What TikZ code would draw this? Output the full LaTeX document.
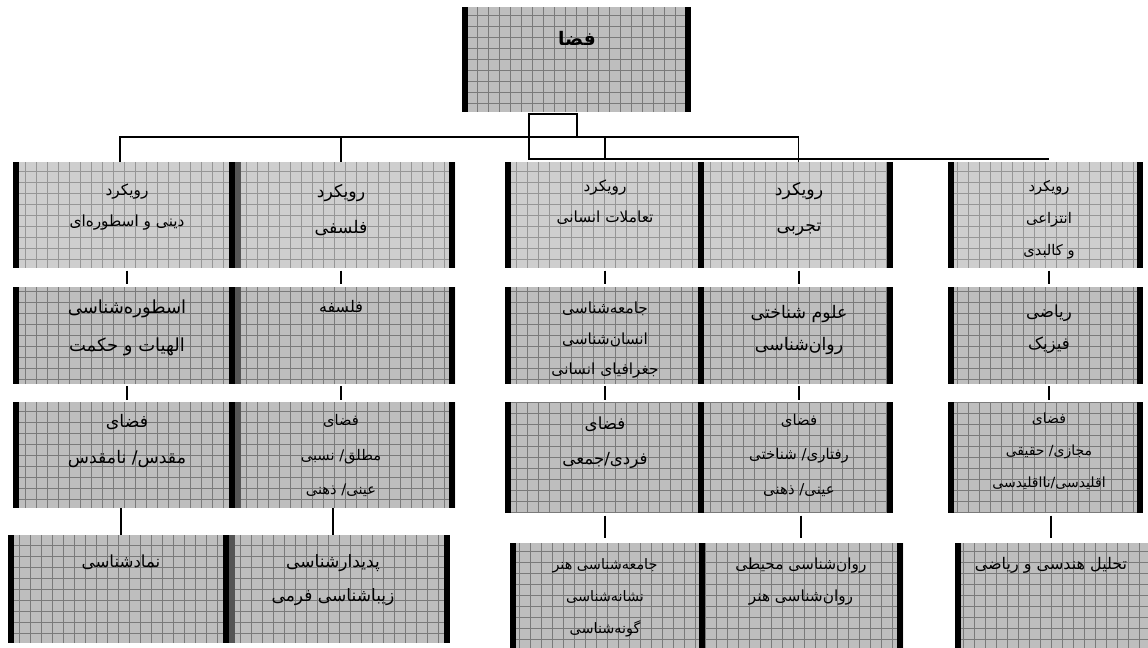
\documentclass[tikz,border=0pt]{standalone}
\usepackage{fontspec}
\newfontfamily\fa[Script=Arabic]{DejaVu Sans}
\TeXXeTstate=1
\newcommand\fal[1]{\beginR #1\endR}
\definecolor{fillA}{RGB}{206,206,206}
\definecolor{fillB}{RGB}{190,190,190}
\definecolor{gridA}{RGB}{150,150,150}
\definecolor{gridB}{RGB}{122,122,122}
\definecolor{stripB}{RGB}{85,85,85}
\tikzset{
  leftcol/.store in=\leftcol, rightcol/.store in=\rightcol, gridcol/.store in=\gridcol,
  leftcol=black, rightcol=black, gridcol=gridA,
  box/.style args={#1/#2}{inner sep=0pt, outer sep=0pt,
    minimum width={#1*0.75pt}, minimum height={#2*0.75pt},
    path picture={
      \draw[\gridcol, line width=0.55pt, step=8.25pt]
        (path picture bounding box.south west) grid (path picture bounding box.north east);
      \path[fill=\leftcol] (path picture bounding box.south west) rectangle ([xshift=4.5pt]path picture bounding box.north west);
      \path[fill=\rightcol] (path picture bounding box.south east) rectangle ([xshift=-4.5pt]path picture bounding box.north east);
    }},
  lightbox/.style={box=#1, fill=fillA, gridcol=gridA, leftcol=black, rightcol=black},
  darkbox/.style={box=#1, fill=fillB, gridcol=gridB, leftcol=black, rightcol=black},
  txt/.style args={#1/#2}{inner sep=0pt, anchor=north, align=center, font=\fa\fontsize{#1}{#2}\selectfont},
  bus/.style={draw=black, line width=0.9pt},
  tick/.style={draw=black, line width=1.1pt}
}
\begin{document}
\begin{tikzpicture}[x=0.75pt, y=-0.75pt]
\useasboundingbox (0,0) rectangle (1148,648);
% top
\node[darkbox=229/105] (T) at (576.5,59.5) {};
\node[inner sep=0pt, font=\fa\bfseries\fontsize{14}{16}\selectfont] (tT) at (577,38) {\fal{فضا}};
% row 1
\node[lightbox=222/106] (A1) at (124,215) {};
\node[lightbox=220/106, leftcol=stripB] (B1) at (345,215) {};
\node[lightbox=199/106] (C1) at (604.5,215) {};
\node[lightbox=189/106, leftcol=none] (D1) at (798.5,215) {};
\node[lightbox=195/106] (E1) at (1045.5,215) {};
% row 2
\node[darkbox=222/97] (A2) at (124,335.5) {};
\node[darkbox=220/97, leftcol=stripB] (B2) at (345,335.5) {};
\node[darkbox=199/97] (C2) at (604.5,335.5) {};
\node[darkbox=189/97, leftcol=none] (D2) at (798.5,335.5) {};
\node[darkbox=195/97] (E2) at (1045.5,335.5) {};
% row 3
\node[darkbox=222/106] (A3) at (124,455) {};
\node[darkbox=220/106, leftcol=stripB] (B3) at (345,455) {};
\node[darkbox=199/111] (C3) at (604.5,457.5) {};
\node[darkbox=189/111, leftcol=none] (D3) at (798.5,457.5) {};
\node[darkbox=195/111] (E3) at (1045.5,457.5) {};
% row 4
\node[darkbox=221/108] (A4) at (118.5,589) {};
\node[darkbox=221/108, leftcol=stripB] (B4) at (339.5,589) {};
\node[darkbox=195/105] (C4) at (607.5,595.5) {};
\node[darkbox=198/105, leftcol=none] (D4) at (804,595.5) {};
\node[darkbox=193/105, rightcol=none] (E4) at (1051.5,595.5) {};

% texts row 1
\node[txt=11.5/23] (tA1) at (127,184) {\fal{رویکرد}\\\fal{دینی و اسطوره^^^^200cای}};
\node[txt=13/27] (tB1) at (341,184.5) {\fal{رویکرد}\\\fal{فلسفی}};
\node[txt=11.5/23] (tC1) at (605,180) {\fal{رویکرد}\\\fal{تعاملات انسانی}};
\node[txt=13/27] (tD1) at (799,182) {\fal{رویکرد}\\\fal{تجربی}};
\node[txt=11/24] (tE1) at (1049,180.5) {\fal{رویکرد}\\\fal{انتزاعی}\\\fal{و کالبدی}};
% texts row 2
\node[txt=13.5/28] (tA2) at (127,300) {\fal{اسطوره^^^^200cشناسی}\\\fal{الهیات و حکمت}};
\node[txt=12/24] (tB2) at (341,300.5) {\fal{فلسفه}};
\node[txt=11.5/23] (tC2) at (605,301.5) {\fal{جامعه^^^^200cشناسی}\\\fal{انسان^^^^200cشناسی}\\\fal{جغرافیای انسانی}};
\node[txt=13/24] (tD2) at (799,305) {\fal{علوم شناختی}\\\fal{روان^^^^200cشناسی}};
\node[txt=12.5/24] (tE2) at (1049,305) {\fal{ریاضی}\\\fal{فیزیک}};
% texts row 3
\node[txt=13/27] (tA3) at (127,414) {\fal{فضای}\\\fal{مقدس/ نامقدس}};
\node[txt=11/26] (tB3) at (341,414) {\fal{فضای}\\\fal{مطلق/ نسبی}\\\fal{عینی/ ذهنی}};
\node[txt=12.5/26] (tC3) at (605,417) {\fal{فضای}\\\fal{فردی/جمعی}};
\node[txt=11.2/26] (tD3) at (799,413.5) {\fal{فضای}\\\fal{رفتاری/ شناختی}\\\fal{عینی/ ذهنی}};
\node[txt=10.5/24] (tE3) at (1049,413) {\fal{فضای}\\\fal{مجازی/ حقیقی}\\\fal{اقلیدسی/نااقلیدسی}};
% texts row 4
\node[txt=12.5/26] (tA4) at (121,554.5) {\fal{نمادشناسی}};
\node[txt=12.8/26] (tB4) at (333,554) {\fal{پدیدارشناسی}\\\fal{زیباشناسی فرمی}};
\node[txt=10.8/24] (tC4) at (605,558) {\fal{جامعه^^^^200cشناسی هنر}\\\fal{نشانه^^^^200cشناسی}\\\fal{گونه^^^^200cشناسی}};
\node[txt=11.5/24] (tD4) at (801,558) {\fal{روان^^^^200cشناسی محیطی}\\\fal{روان^^^^200cشناسی هنر}};
\node[txt=12/24] (tE4) at (1051,557.5) {\fal{تحلیل هندسی و ریاضی}};

% top connectors
\coordinate (r1) at (529,114);
\coordinate (r2) at (577,137);
\coordinate (r3) at (605,159);
\coordinate (r4) at (1049,159);
\draw[bus] (r1) rectangle (r2);
\draw[bus] ([xshift=-3pt]A1.north) |- (r2);
\draw[bus] ([xshift=-3pt]B1.north) -- ([xshift=-3pt]B1.north |- r2);
\draw[bus, line width=2pt] (r2) -- (r2 -| r3);
\draw[bus] (r1 |- r2) rectangle (r3);
\draw[bus] (r2 -| r3) -| (D1.north);
\draw[bus] (r1 |- r3) -- (r4);

% ticks row1 -> row2
\foreach \c/\a/\b in {tA2/A1/A2, tB2/B1/B2, tC2/C1/C2, tD2/D1/D2, tE2/E1/E2}{
  \draw[tick, shorten <=2pt, shorten >=2.5pt] (\c |- \a.south) -- (\c |- \b.north);
}
% ticks row2 -> row3
\foreach \c/\a/\b in {tA2/A2/A3, tB2/B2/B3, tC2/C2/C3, tD2/D2/D3, tE2/E2/E3}{
  \draw[tick, shorten <=1.5pt, shorten >=1.5pt] (\c |- \a.south) -- (\c |- \b.north);
}
% ticks row3 -> row4
\foreach \c/\a/\b in {tA4/A3/A4, tB4/B3/B4}{
  \draw[tick] (\c |- \a.south) -- (\c |- \b.north);
}
\foreach \c/\a/\b in {tC4/C3/C4, tD4/D3/D4, tE4/E3/E4}{
  \draw[tick, shorten <=2pt, shorten >=4pt] (\c |- \a.south) -- (\c |- \b.north);
}
\end{tikzpicture}
\end{document}
